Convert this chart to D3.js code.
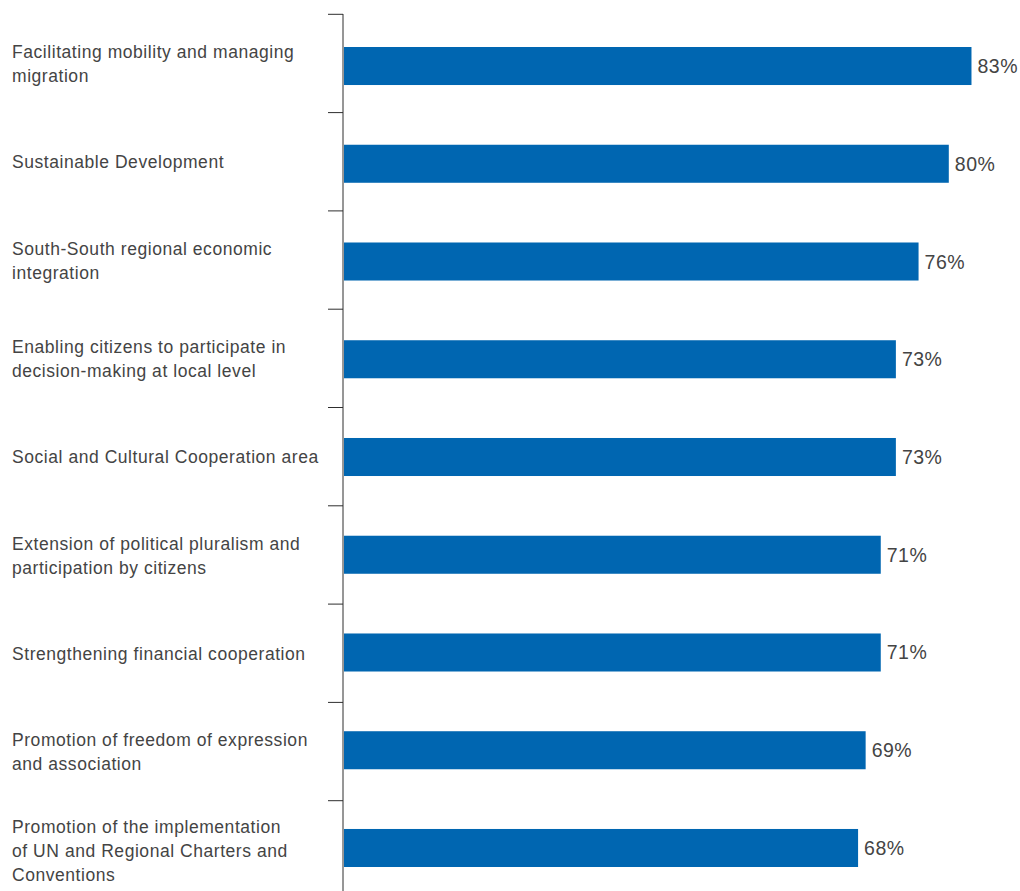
<!DOCTYPE html>
<html>
<head>
<meta charset="utf-8">
<script src="https://cdn.jsdelivr.net/npm/d3@7"></script>
<style>
  html, body { margin: 0; padding: 0; background: #ffffff; }
  svg { display: block; }
  text { font-family: "Liberation Sans", Arial, sans-serif; fill: #444444; }
</style>
</head>
<body>
<svg id="chart" width="1020" height="891"></svg>
<script>
// Share of respondents rating each area as a priority
const categories = [
  "Facilitating mobility and managing\nmigration",
  "Sustainable Development",
  "South-South regional economic\nintegration",
  "Enabling citizens to participate in\ndecision-making at local level",
  "Social and Cultural Cooperation area",
  "Extension of political pluralism and\nparticipation by citizens",
  "Strengthening financial cooperation",
  "Promotion of freedom of expression\nand association",
  "Promotion of the implementation\nof UN and Regional Charters and\nConventions"
];
const values = [83, 80, 76, 73, 73, 71, 71, 69, 68];
const valueLabels = ["83%", "80%", "76%", "73%", "73%", "71%", "71%", "69%", "68%"];

const svg = d3.select("#chart");

const axisX = 343;
const x = d3.scaleLinear().domain([0, 100]).range([344, 1100]);

// bar rows
const y = d3.scaleBand()
  .domain(categories)
  .range([47, 867])
  .paddingInner(0.611)
  .paddingOuter(0);

// row separators (tick intervals) on the category axis
const rows = d3.scaleBand()
  .domain(categories)
  .range([14, 14 + 9 * 98.3])
  .padding(0);

// vertical axis line
svg.append("line")
  .attr("x1", axisX).attr("x2", axisX)
  .attr("y1", rows.range()[0]).attr("y2", rows.range()[1])
  .attr("stroke", "#2e2e2e").attr("stroke-width", 1);

// ticks between categories, pointing left
svg.append("g").selectAll("line")
  .data(categories)
  .join("line")
  .attr("x1", axisX - 15).attr("x2", axisX)
  .attr("y1", d => rows(d) + 0.3)
  .attr("y2", d => rows(d) + 0.3)
  .attr("stroke", "#2e2e2e").attr("stroke-width", 1);

// bars
svg.append("g").selectAll("rect")
  .data(values)
  .join("rect")
  .attr("x", x(0))
  .attr("y", (d, i) => y(categories[i]))
  .attr("width", d => x(d) - x(0))
  .attr("height", y.bandwidth())
  .attr("fill", "#0066b1");

// value labels
svg.append("g").selectAll("text")
  .data(values)
  .join("text")
  .attr("x", d => x(d) + 6)
  .attr("y", (d, i) => y(categories[i]) + y.bandwidth() / 2 + 7)
  .attr("font-size", 19.5)
  .attr("letter-spacing", 0.5)
  .text((d, i) => valueLabels[i]);

// category labels, wrapped on explicit breaks and centred on each row
const lineH = 24;
svg.append("g").selectAll("text")
  .data(categories)
  .join("text")
  .attr("font-size", 17.5)
  .attr("letter-spacing", 0.55)
  .each(function (d) {
    const lines = d.split("\n");
    const cy = rows(d) + rows.bandwidth() / 2 + 7;
    const t = d3.select(this);
    lines.forEach((ln, k) => {
      t.append("tspan")
        .attr("x", 12)
        .attr("y", cy + (k - (lines.length - 1) / 2) * lineH)
        .text(ln);
    });
  });
</script>
</body>
</html>
